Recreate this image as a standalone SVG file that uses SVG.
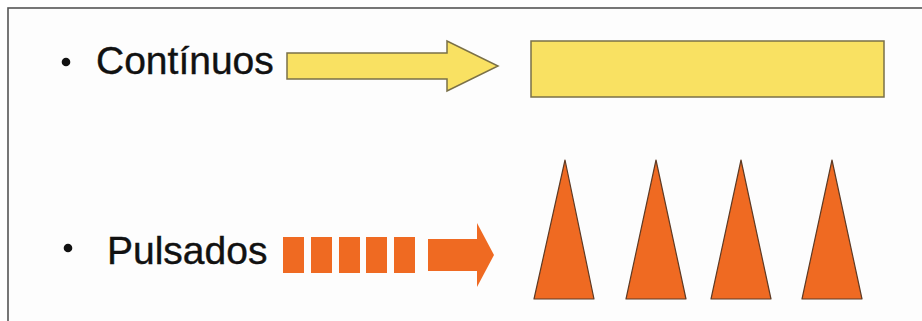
<svg xmlns="http://www.w3.org/2000/svg" width="922" height="321" viewBox="0 0 922 321">
<style>
.lbl{font-family:"Liberation Sans",Arial,sans-serif;font-size:39px;fill:#111;stroke:#111;stroke-width:0.4}
.yel{fill:#F9E162;stroke:#7a7048;stroke-width:1.5}
.org{fill:#EF6A22}
.tri{fill:#EF6A22;stroke:#5e3a24;stroke-width:1.2;stroke-linejoin:round}
</style>
<rect x="0" y="0" width="922" height="321" fill="#ffffff"/>
<rect x="8" y="8" width="940" height="340" fill="#fdfdfd" stroke="#555" stroke-width="1.6"/>
<g id="continuos-label">
<circle cx="66" cy="62" r="4.3" fill="#111"/>
<text class="lbl" x="96" y="74">Contínuos</text>
</g>
<g id="pulsados-label">
<circle cx="68" cy="248" r="4.3" fill="#111"/>
<text class="lbl" x="107" y="264">Pulsados</text>
</g>
<g id="connectors">
<path id="yellow-arrow" class="yel" d="M287,53 L447,53 L447,41 L498,66 L447,91 L447,79 L287,79 Z"/>
<g id="pulse-arrow">
<rect class="org" x="283" y="237" width="21" height="36"/>
<rect class="org" x="311" y="237" width="21" height="36"/>
<rect class="org" x="339" y="237" width="21" height="36"/>
<rect class="org" x="366" y="237" width="21" height="36"/>
<rect class="org" x="394" y="237" width="21" height="36"/>
<path class="org" d="M428,239 L477,239 L477,223 L494,255 L477,287 L477,271 L428,271 Z"/>
</g>
</g>
<g id="continuous-beam">
<rect class="yel" x="531" y="41" width="353" height="56"/>
</g>
<g id="pulses">
<polygon class="tri" points="565,160 594,299 534,299"/>
<polygon class="tri" points="656,160 686,299 626,299"/>
<polygon class="tri" points="741,160 771,299 711,299"/>
<polygon class="tri" points="832,160 862,299 802,299"/>
</g>
</svg>
